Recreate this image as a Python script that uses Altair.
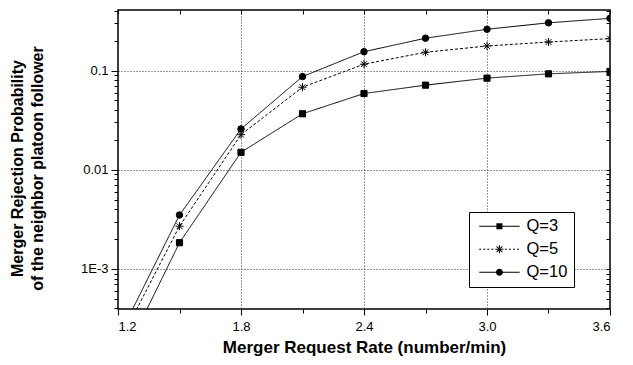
import altair as alt
import pandas as pd

# ---- data ----
rates = [1.2, 1.5, 1.8, 2.1, 2.4, 2.7, 3.0, 3.3, 3.6]
q3 = [1.0e-4, 0.00184, 0.0150, 0.0367, 0.0587, 0.0713, 0.0839, 0.0927, 0.098]
q5 = [1.7e-4, 0.0027, 0.0226, 0.068, 0.116, 0.153, 0.177, 0.194, 0.21]
q10 = [2.0e-4, 0.0035, 0.0258, 0.087, 0.155, 0.212, 0.261, 0.303, 0.336]
series = ["Q=3", "Q=5", "Q=10"]

x_major = [1.2, 1.8, 2.4, 3.0, 3.6]
x_minor = [1.5, 2.1, 2.7, 3.3]
y_major = [0.001, 0.01, 0.1]
y_minor = [0.0004, 0.0005, 0.0006, 0.0007, 0.0008, 0.0009,
           0.002, 0.003, 0.004, 0.005, 0.006, 0.007, 0.008, 0.009,
           0.02, 0.03, 0.04, 0.05, 0.06, 0.07, 0.08, 0.09,
           0.2, 0.3, 0.4]
y_labels = ["1E-3", "0.01", "0.1"]

rows = []
for name, vals in zip(series, [q3, q5, q10]):
    for r, v in zip(rates, vals):
        rows.append({"rate": r, "Q": name, "p": v})
df = pd.DataFrame(rows)

FONT = "Liberation Sans"

# ---- marker shapes for the plot ----
asterisk = "M0,-1.25V1.25M-1.25,0H1.25M-0.9,-0.9L0.9,0.9M-0.9,0.9L0.9,-0.9"
square = "M-0.95,-0.95H0.95V0.95H-0.95Z"
marker_paths = [square, asterisk, "circle"]

# ---- legend symbols: line + marker, built only from filled shapes ----
L0, L1, C = -0.6, 5.4, 2.4   # line start/end and marker centre (symbol units)
H = 0.075                     # half thickness of the line


def hbar(a, b, h=H):
    return f"M{a:.3f},{-h:.3f}H{b:.3f}V{h:.3f}H{a:.3f}Z"


def dashes(a, b, d=0.3, g=0.3):
    out, u = "", a
    while u < b - 1e-9:
        e = min(u + d, b)
        out += hbar(u, e)
        u += d + g
    return out


def poly(pts):
    return "M" + "L".join(f"{x:.3f},{y:.3f}" for x, y in pts) + "Z"


r = 0.6
w = 0.075
dw = w * 0.7071
dr = r * 0.7071
star = (hbar(C - r, C + r)
        + f"M{C - w:.3f},{-r:.3f}H{C + w:.3f}V{r:.3f}H{C - w:.3f}Z"
        + poly([(C - dr + dw, -dr - dw), (C + dr + dw, dr - dw),
                (C + dr - dw, dr + dw), (C - dr - dw, -dr + dw)])
        + poly([(C - dr + dw, dr + dw), (C + dr + dw, -dr + dw),
                (C + dr - dw, -dr - dw), (C - dr - dw, dr - dw)]))
sq = 0.45
cr = 0.52
leg_q3 = hbar(L0, L1) + f"M{C - sq:.3f},{-sq:.3f}H{C + sq:.3f}V{sq:.3f}H{C - sq:.3f}Z"
leg_q5 = dashes(L0, C - 0.8) + dashes(C + 0.8, L1) + star
leg_q10 = (hbar(L0, L1)
           + f"M{C + cr:.3f},0A{cr},{cr} 0 1,1 {C - cr:.3f},0A{cr},{cr} 0 1,1 {C + cr:.3f},0Z")

x_vals = sorted(x_major + x_minor)
y_vals = sorted(y_major + y_minor)
x_major_test = "indexof(" + str(x_major) + ", datum.value) >= 0"
y_major_test = "indexof(" + str(y_major) + ", datum.value) >= 0"
y_label_expr = " : ".join(
    f"datum.value == {v} ? '{lab}'" for v, lab in zip(y_major, y_labels)
) + " : ''"
x_label_expr = f"{x_major_test} ? format(datum.value, '.1f') : ''"

x_scale = alt.Scale(domain=[1.2, 3.6], nice=False, zero=False)
y_scale = alt.Scale(type="log", domain=[3.95e-4, 0.408], nice=False)

base = alt.Chart(df)

lines = base.mark_line(clip=True, color="black", strokeWidth=1).encode(
    x=alt.X("rate:Q", scale=x_scale, axis=alt.Axis(
        orient="bottom", values=x_vals, labelExpr=x_label_expr,
        tickSize={"condition": {"test": x_major_test, "value": 6}, "value": 4},
        grid=True, gridDash=[1, 2], gridColor="#333",
        gridOpacity={"condition": {"test": x_major_test, "value": 1}, "value": 0},
        labelPadding=5, labelOverlap=False,
        title="Merger Request Rate (number/min)", titleFontSize=17,
        titleFontWeight="bold", titleY=38, titleBaseline="middle")),
    y=alt.Y("p:Q", scale=y_scale, axis=alt.Axis(
        orient="left", values=y_vals, labelExpr=y_label_expr,
        tickSize={"condition": {"test": y_major_test, "value": 7}, "value": 4},
        grid=True, gridDash=[1, 2], gridColor="#333",
        gridOpacity={"condition": {"test": y_major_test, "value": 1}, "value": 0},
        labelPadding=3, labelOverlap=False,
        title=["Merger Rejection Probability", "of the neighbor platoon follower"],
        titleFontSize=16, titleFontWeight="bold", titleX=-101, titleY=158,
        titleAngle=-90, titleBaseline="middle", titleAlign="center",
        titleLineHeight=20)),
    detail="Q:N",
    strokeDash=alt.StrokeDash("Q:N", scale=alt.Scale(
        domain=series, range=[[1, 0], [3, 2], [1, 0]]), legend=None),
)

points = base.mark_point(clip=True, fill="black", stroke="black",
                         strokeWidth=1, opacity=1, size=42).encode(
    x=alt.X("rate:Q", scale=x_scale, axis=alt.Axis(
        orient="top", values=x_vals, labels=False, tickSize=4, offset=-4,
        grid=False, title=None)),
    y=alt.Y("p:Q", scale=y_scale, axis=alt.Axis(
        orient="right", values=y_vals, labels=False, tickSize=4, offset=-4,
        grid=False, title=None)),
    shape=alt.Shape("Q:N", scale=alt.Scale(domain=series, range=marker_paths),
                    legend=None),
)

legend_layer = base.transform_filter("false").mark_point(
    fill="black", stroke="black", strokeWidth=1, opacity=1).encode(
    x=alt.X("rate:Q", scale=x_scale, axis=None),
    y=alt.Y("p:Q", scale=y_scale, axis=None),
    shape=alt.Shape("Q:N", scale=alt.Scale(domain=series,
                                           range=[leg_q3, leg_q5, leg_q10]),
                    legend=alt.Legend(
                        title=None, orient="none", legendX=351, legendY=202,
                        strokeColor="black", fillColor="white", padding=6,
                        symbolSize=182, symbolStrokeWidth=1,
                        symbolFillColor="black", symbolStrokeColor="black",
                        symbolOpacity=1, labelFontSize=16.5, labelFont=FONT,
                        labelColor="black", labelOffset=35, rowPadding=6)),
)

chart = alt.layer(lines, points, legend_layer).resolve_axis(
    x="independent", y="independent"
).resolve_scale(shape="independent").properties(
    width=492, height=299,
    autosize=alt.AutoSizeParams(type="none"),
    padding={"left": 110, "top": 2, "right": 15, "bottom": 55},
    background="white",
).configure_view(
    stroke="black", strokeWidth=1.5
).configure_axis(
    domain=False, labelFont=FONT, labelFontSize=13, labelColor="black",
    tickColor="black", tickWidth=1, titleFont=FONT, titleColor="black",
)

chart.save("out.html", embed_options={"renderer": "svg", "actions": False})
